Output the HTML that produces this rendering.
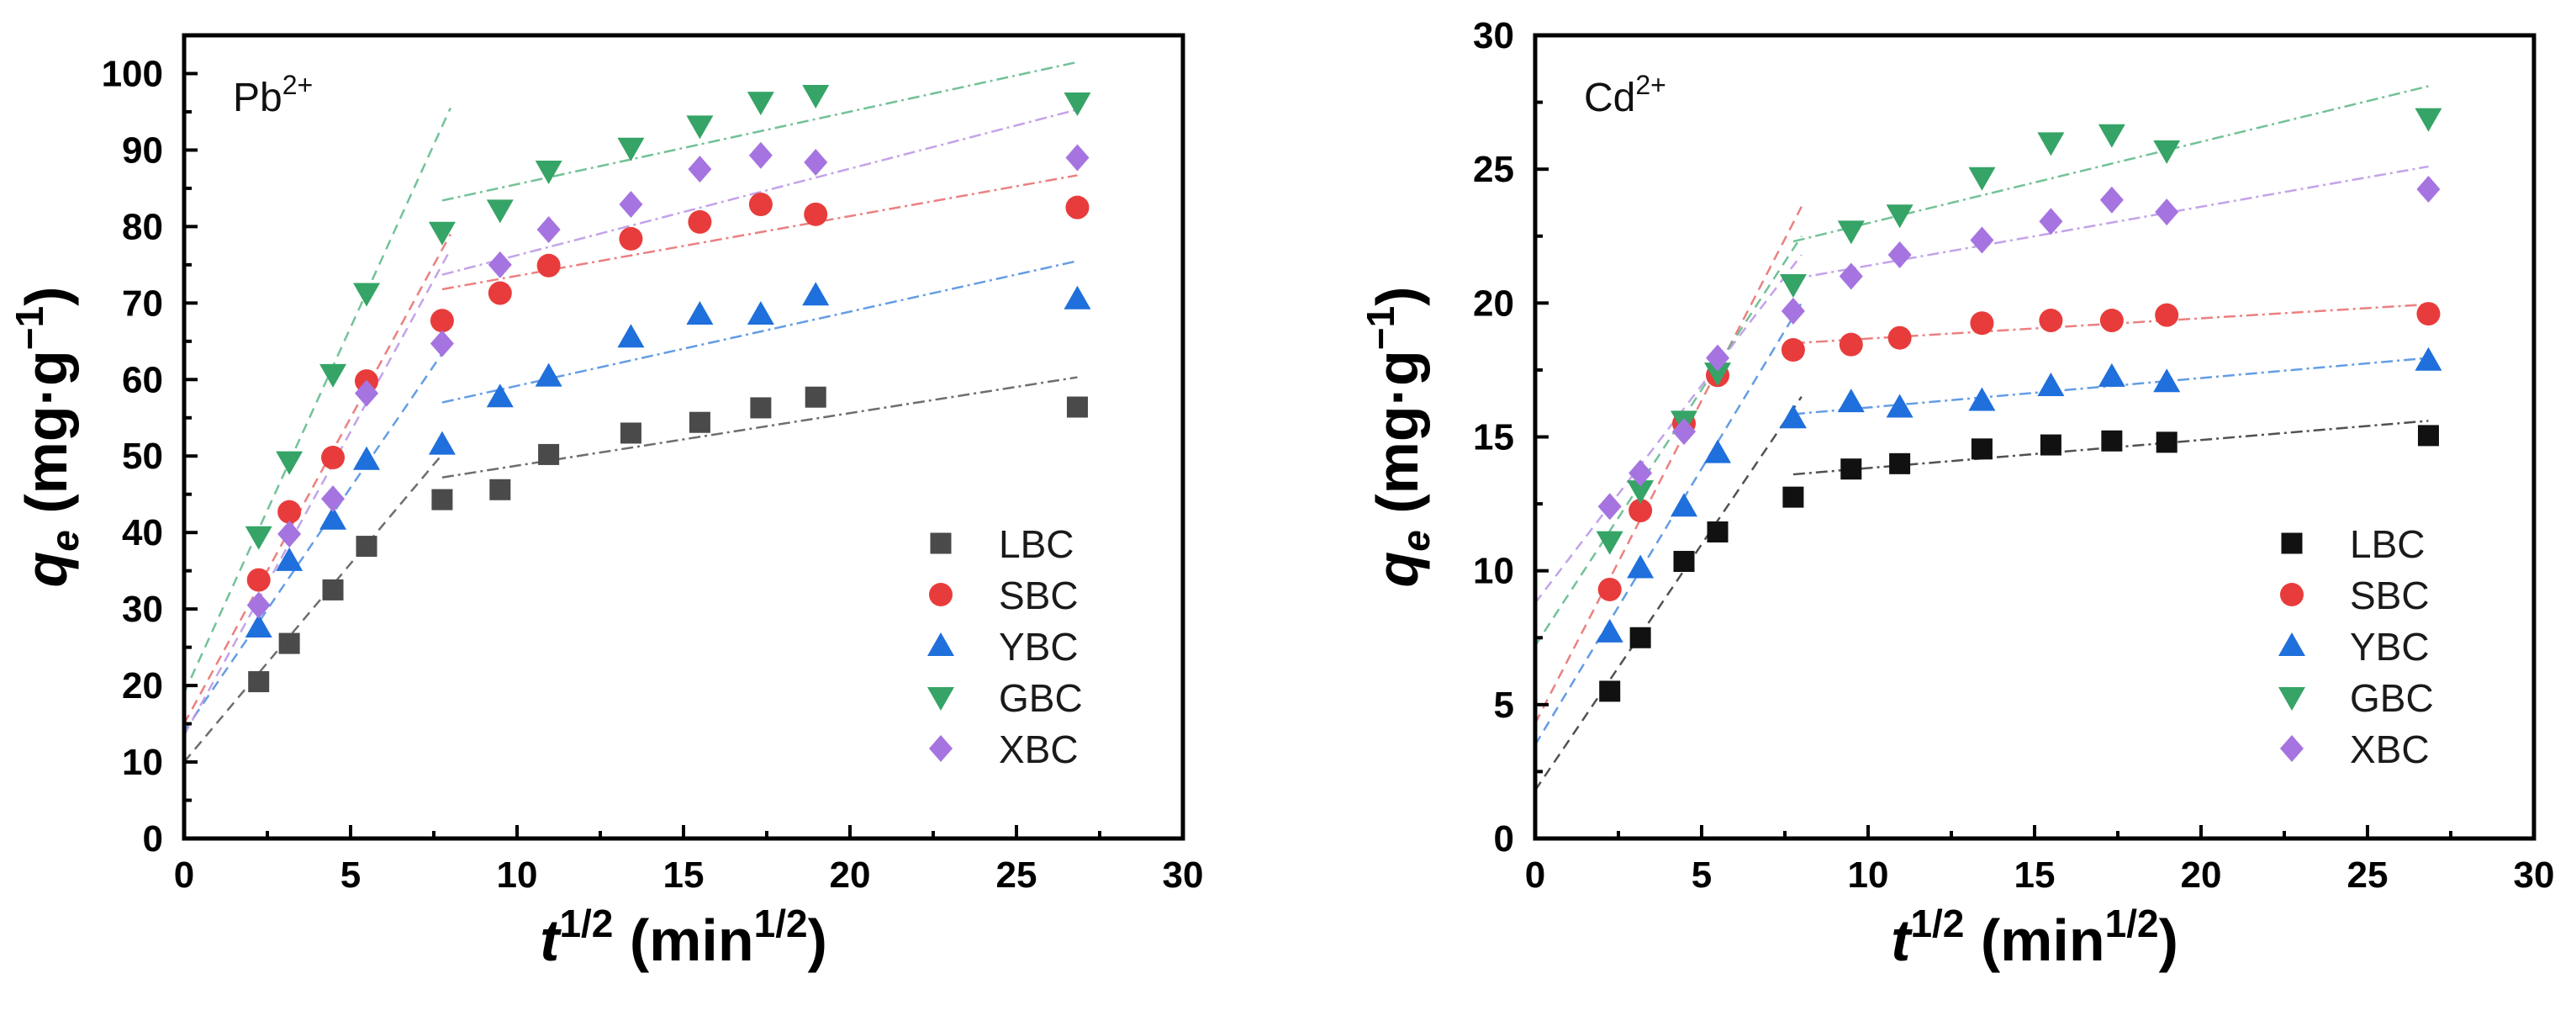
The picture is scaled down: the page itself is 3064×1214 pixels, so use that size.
<!DOCTYPE html>
<html><head><meta charset="utf-8"><style>
html,body{margin:0;padding:0;background:#fff;}
svg{display:block;font-family:"Liberation Sans",Arial,sans-serif;}
</style></head><body>
<svg id="fig" width="3064" height="1214" viewBox="0 0 3064 1214" xmlns="http://www.w3.org/2000/svg"></svg>
<script>
const xVals = [2.24, 3.16, 4.47, 5.48, 7.75, 9.49, 10.95, 13.42, 15.49, 17.32, 18.97, 26.83];
const seriesNames = ["LBC", "SBC", "YBC", "GBC", "XBC"];
const xTicks = [0, 5, 10, 15, 20, 25, 30];
const pbTicks = [0, 10, 20, 30, 40, 50, 60, 70, 80, 90, 100];
const cdTicks = [0, 5, 10, 15, 20, 25, 30];
// Pb2+ data
const pbLBC = [20.5, 25.5, 32.5, 38.2, 44.3, 45.6, 50.2, 53.0, 54.4, 56.3, 57.7, 56.4];
const pbSBC = [33.8, 42.7, 49.8, 59.8, 67.7, 71.3, 74.9, 78.4, 80.6, 82.9, 81.6, 82.5];
const pbYBC = [27.6, 36.3, 41.7, 49.5, 51.5, 57.7, 60.4, 65.5, 68.5, 68.5, 71.0, 70.5];
const pbGBC = [39.5, 49.3, 60.7, 71.3, 79.3, 82.2, 87.3, 90.3, 93.2, 96.3, 97.2, 96.2];
const pbXBC = [30.5, 39.8, 44.4, 58.2, 64.7, 75.0, 79.6, 82.9, 87.5, 89.3, 88.4, 89.0];
const pbFit1Start = [10.0, 15.0, 14.0, 19.0, 13.5];
const pbFit1End = [51.5, 79.0, 65.0, 95.5, 77.0];
const pbFit2Start = [47.2, 71.8, 57.0, 83.4, 73.7];
const pbFit2End = [60.3, 86.7, 75.5, 101.5, 95.3];
// Cd2+ data
const cdLBC = [5.5, 7.5, 10.35, 11.45, 12.75, 13.8, 14.0, 14.55, 14.7, 14.85, 14.8, 15.05];
const cdSBC = [9.3, 12.25, 15.5, 17.3, 18.25, 18.45, 18.7, 19.25, 19.35, 19.35, 19.55, 19.6];
const cdYBC = [7.7, 10.1, 12.4, 14.4, 15.7, 16.3, 16.1, 16.35, 16.9, 17.25, 17.05, 17.85];
const cdGBC = [11.1, 13.0, 15.6, 17.4, 20.7, 22.7, 23.3, 24.7, 26.0, 26.3, 25.7, 26.9];
const cdXBC = [12.4, 13.65, 15.2, 17.95, 19.7, 21.0, 21.8, 22.35, 23.05, 23.85, 23.4, 24.25];
const cdFit1Start = [1.8, 4.3, 3.5, 7.2, 8.8];
const cdFit1End = [16.5, 23.6, 20.0, 22.5, 21.8];
const cdFit2Start = [13.6, 18.5, 15.85, 22.3, 20.9];
const cdFit2End = [15.6, 19.95, 17.95, 28.1, 25.1];

const NS = "http://www.w3.org/2000/svg";
const svg = document.getElementById("fig");
function mk(tag, attrs, parent) {
  const e = document.createElementNS(NS, tag);
  for (const k in attrs) e.setAttribute(k, attrs[k]);
  (parent || svg).appendChild(e);
  return e;
}

function drawChart(opt) {
  const L = opt.left, R = opt.left + 1188, T = 42, B = 997;
  const xs = v => L + (v / 30) * (R - L);
  const ys = v => B - (v / opt.ymax) * (B - T);
  const g = mk("g", {});
  
  

  const fits = mk("g", {}, g);
  
  
  opt.fit1s.forEach((s, i) => {
    const l = mk("line", {x1: xs(0), y1: ys(s), x2: xs(8), y2: ys(opt.fit1e[i]), stroke: opt.lineColors[i], "stroke-width": 2.5, "stroke-dasharray": "12 8", opacity: 0.85}, fits);
    
    
    const l2 = mk("line", {x1: xs(7.75), y1: ys(opt.fit2s[i]), x2: xs(26.83), y2: ys(opt.fit2e[i]), stroke: opt.lineColors[i], "stroke-width": 2.5, "stroke-dasharray": "14 5 3 5", opacity: 0.85}, fits);
    
    
  });

  opt.data.forEach((arr, i) => {
    const sg = mk("g", {}, g);
    
    
    arr.forEach((v, j) => {
      const m = marker(i, xs(xVals[j]), ys(v), opt.colors[i], sg);
      
      
    });
  });

  const fr = mk("rect", {x: L, y: T, width: R - L, height: B - T, fill: "none", stroke: "#000", "stroke-width": 5}, g);
  
  

  xTicks.forEach(v => {
    const x = xs(v);
    mk("line", {x1: x, y1: B, x2: x, y2: B - 16, stroke: "#000", "stroke-width": 4}, g);
    if (v < 30) mk("line", {x1: xs(v + 2.5), y1: B, x2: xs(v + 2.5), y2: B - 9, stroke: "#000", "stroke-width": 4}, g);
    const t = mk("text", {x: x, y: B + 58, "text-anchor": "middle", "font-size": 44, "font-weight": "bold"}, g);
    t.textContent = v;
    
    
  });
  opt.yticks.forEach((v, k) => {
    const y = ys(v);
    mk("line", {x1: L, y1: y, x2: L + 16, y2: y, stroke: "#000", "stroke-width": 4}, g);
    const half = v + opt.ystep / 2;
    if (half < opt.ymax) mk("line", {x1: L, y1: ys(half), x2: L + 9, y2: ys(half), stroke: "#000", "stroke-width": 4}, g);
    const t = mk("text", {x: L - 25, y: y + 15, "text-anchor": "end", "font-size": 44, "font-weight": "bold"}, g);
    t.textContent = v;
    
    
  });

  const ion = mk("text", {x: L + 58, y: 132, "font-size": 48, fill: "#111"}, g);
  ion.innerHTML = opt.ion + '<tspan dy="-20" font-size="32">2+</tspan>';
  
  

  const yt = mk("text", {x: 0, y: 0, "text-anchor": "middle", "font-size": 70, "font-weight": "bold", transform: `translate(${L - 140},${(T + B) / 2}) rotate(-90)`}, g);
  yt.innerHTML = '<tspan font-style="italic">q</tspan><tspan font-style="italic" font-size="46" dy="14">e</tspan><tspan dy="-14"> (mg·g</tspan><tspan font-size="46" dy="-28">−1</tspan><tspan dy="28">)</tspan>';
  
  
  const xt = mk("text", {x: (L + R) / 2, y: 1142, "text-anchor": "middle", "font-size": 70, "font-weight": "bold"}, g);
  xt.innerHTML = '<tspan font-style="italic">t</tspan><tspan font-size="46" dy="-28">1/2</tspan><tspan dy="28"> (min</tspan><tspan font-size="46" dy="-28">1/2</tspan><tspan dy="28">)</tspan>';
  
  

  const lg = mk("g", {}, g);
  
  
  seriesNames.forEach((n, i) => {
    const y = 646 + i * 61;
    const m = marker(i, L + 900, y, opt.colors[i], lg);
    
    
    const t = mk("text", {x: L + 969, y: y + 17, "font-size": 46, fill: "#1a1a1a"}, lg);
    t.textContent = n;
    
    
  });
}

function marker(i, x, y, c, parent) {
  if (i === 0) return mk("rect", {x: x - 12.5, y: y - 12.5, width: 25, height: 25, fill: c}, parent);
  if (i === 1) return mk("circle", {cx: x, cy: y, r: 14, fill: c}, parent);
  if (i === 2) return mk("polygon", {points: `${x},${y - 16} ${x + 16},${y + 12} ${x - 16},${y + 12}`, fill: c}, parent);
  if (i === 3) return mk("polygon", {points: `${x},${y + 16} ${x + 16},${y - 12} ${x - 16},${y - 12}`, fill: c}, parent);
  return mk("polygon", {points: `${x},${y - 16} ${x + 14},${y} ${x},${y + 16} ${x - 14},${y}`, fill: c}, parent);
}

drawChart({
  name: "pb-chart", left: 219, ymax: 105, ystep: 10, yticks: pbTicks, ion: "Pb",
  data: [pbLBC, pbSBC, pbYBC, pbGBC, pbXBC],
  fit1s: pbFit1Start, fit1e: pbFit1End, fit2s: pbFit2Start, fit2e: pbFit2End,
  colors: ["#4a4a4a", "#e83c3c", "#1f6fdc", "#35a466", "#a674e0"],
  lineColors: ["#555", "#e86a6a", "#4a8de0", "#5bb886", "#b994e6"]
});
drawChart({
  name: "cd-chart", left: 1826, ymax: 30, ystep: 5, yticks: cdTicks, ion: "Cd",
  data: [cdLBC, cdSBC, cdYBC, cdGBC, cdXBC],
  fit1s: cdFit1Start, fit1e: cdFit1End, fit2s: cdFit2Start, fit2e: cdFit2End,
  colors: ["#111", "#e83c3c", "#1f6fdc", "#35a466", "#a674e0"],
  lineColors: ["#333", "#e86a6a", "#4a8de0", "#5bb886", "#b994e6"]
});
</script>
</body></html>
